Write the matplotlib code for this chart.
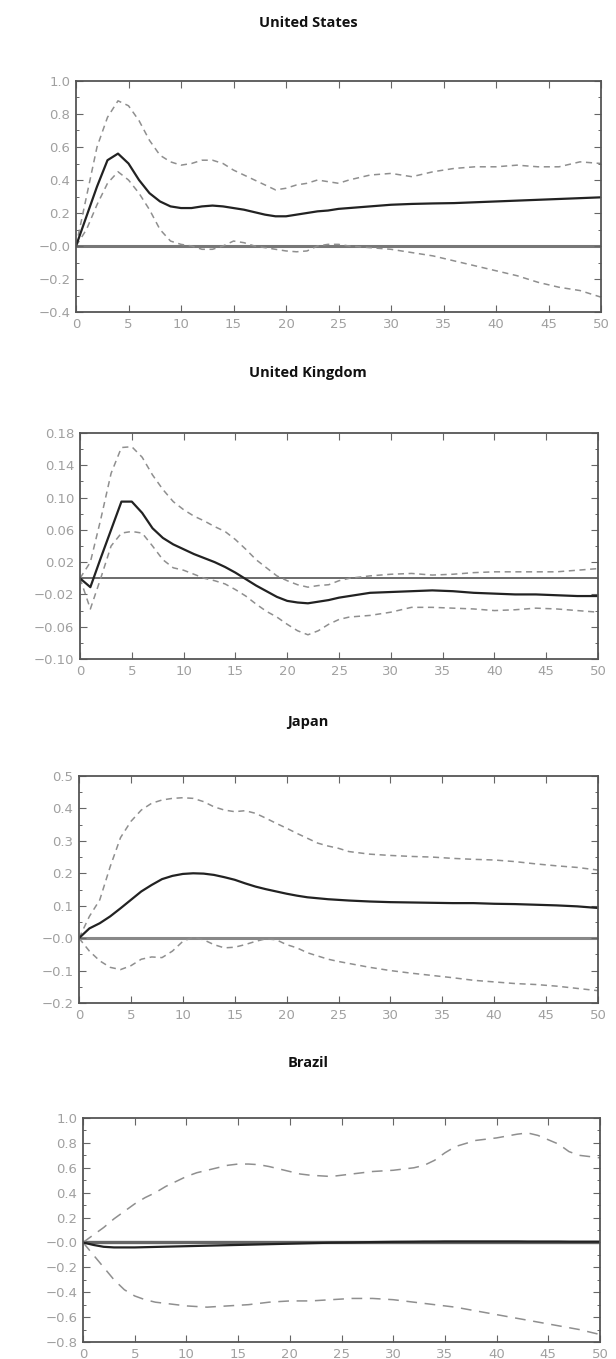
import numpy as np
import matplotlib.pyplot as plt
from matplotlib.ticker import FixedLocator, FixedFormatter, MultipleLocator

# impulse responses
titles = ["United States", "United Kingdom", "Japan", "Brazil"]

us_h = [0, 1, 2, 3, 4, 5, 6, 7, 8, 9, 10, 11, 12, 13, 14, 15, 16, 17, 18, 19,
        20, 21, 22, 23, 24, 25, 26, 28, 30, 32, 34, 36, 38, 40, 42, 44, 46, 48, 50]
us_mid = [0, 0.18, 0.36, 0.52, 0.56, 0.50, 0.40, 0.32, 0.27, 0.24, 0.23, 0.23, 0.24, 0.245,
          0.24, 0.23, 0.22, 0.205, 0.19, 0.18, 0.18, 0.19, 0.20, 0.21, 0.215, 0.225, 0.23,
          0.24, 0.25, 0.255, 0.258, 0.26, 0.265, 0.27, 0.275, 0.28, 0.285, 0.29, 0.295]
us_hi = [0, 0.30, 0.60, 0.78, 0.88, 0.85, 0.76, 0.64, 0.55, 0.51, 0.49, 0.50, 0.52, 0.52,
         0.50, 0.46, 0.43, 0.40, 0.37, 0.34, 0.35, 0.37, 0.38, 0.40, 0.39, 0.38, 0.40,
         0.43, 0.44, 0.42, 0.45, 0.47, 0.48, 0.48, 0.49, 0.48, 0.48, 0.51, 0.50]
us_lo = [0, 0.10, 0.25, 0.38, 0.45, 0.40, 0.32, 0.22, 0.10, 0.03, 0.01, 0.0, -0.02, -0.02,
         0.0, 0.03, 0.02, 0.0, -0.01, -0.02, -0.03, -0.035, -0.03, 0.0, 0.01, 0.01, 0.0,
         -0.01, -0.02, -0.04, -0.06, -0.09, -0.12, -0.15, -0.18, -0.22, -0.25, -0.27, -0.31]

uk_h = [0, 1, 2, 3, 4, 5, 6, 7, 8, 9, 10, 11, 12, 13, 14, 15, 16, 17, 18, 19,
        20, 21, 22, 23, 24, 25, 26, 28, 30, 32, 34, 36, 38, 40, 42, 44, 46, 48, 50]
uk_mid = [0, -0.011, 0.025, 0.060, 0.095, 0.095, 0.081, 0.062, 0.050, 0.042, 0.036, 0.030,
          0.025, 0.020, 0.014, 0.007, -0.001, -0.009, -0.016, -0.023, -0.028, -0.030,
          -0.031, -0.029, -0.027, -0.024, -0.022, -0.018, -0.017, -0.016, -0.015, -0.016,
          -0.018, -0.019, -0.020, -0.020, -0.021, -0.022, -0.022]
uk_hi = [0, 0.02, 0.073, 0.13, 0.162, 0.163, 0.15, 0.128, 0.11, 0.095, 0.085, 0.077, 0.071,
         0.064, 0.058, 0.048, 0.036, 0.023, 0.013, 0.003, -0.003, -0.008, -0.011, -0.009,
         -0.008, -0.003, 0.0, 0.003, 0.005, 0.006, 0.004, 0.005, 0.007, 0.008, 0.008,
         0.008, 0.008, 0.010, 0.012]
uk_lo = [0, -0.038, 0.0, 0.04, 0.056, 0.058, 0.056, 0.040, 0.023, 0.013, 0.010, 0.005, 0.0,
         -0.003, -0.007, -0.014, -0.022, -0.032, -0.041, -0.048, -0.057, -0.065, -0.070,
         -0.065, -0.057, -0.051, -0.048, -0.046, -0.042, -0.036, -0.036, -0.037, -0.038,
         -0.040, -0.039, -0.037, -0.038, -0.040, -0.042]

jp_h = [0, 1, 2, 3, 4, 5, 6, 7, 8, 9, 10, 11, 12, 13, 14, 15, 16, 17, 18, 19,
        20, 21, 22, 23, 24, 25, 26, 28, 30, 32, 34, 36, 38, 40, 42, 44, 46, 48, 50]
jp_mid = [0, 0.03, 0.046, 0.067, 0.092, 0.118, 0.144, 0.164, 0.182, 0.192, 0.198, 0.200,
          0.199, 0.195, 0.188, 0.180, 0.169, 0.159, 0.151, 0.144, 0.137, 0.131, 0.126,
          0.123, 0.120, 0.118, 0.116, 0.113, 0.111, 0.110, 0.109, 0.108, 0.108, 0.106,
          0.105, 0.103, 0.101, 0.098, 0.093]
jp_hi = [0, 0.067, 0.118, 0.22, 0.31, 0.36, 0.395, 0.416, 0.426, 0.431, 0.433, 0.431, 0.421,
         0.405, 0.395, 0.39, 0.393, 0.385, 0.37, 0.354, 0.339, 0.323, 0.308, 0.293, 0.284,
         0.277, 0.267, 0.259, 0.255, 0.252, 0.25, 0.246, 0.243, 0.241, 0.236, 0.229,
         0.223, 0.218, 0.210]
jp_lo = [0, -0.04, -0.07, -0.09, -0.097, -0.085, -0.065, -0.058, -0.06, -0.04, -0.01, 0.003,
         -0.005, -0.02, -0.03, -0.028, -0.02, -0.01, -0.002, -0.005, -0.02, -0.03, -0.045,
         -0.055, -0.065, -0.072, -0.078, -0.09, -0.10, -0.108, -0.115, -0.122, -0.13,
         -0.135, -0.14, -0.143, -0.148, -0.155, -0.162]

br_h = [0, 1, 2, 3, 4, 5, 6, 7, 8, 9, 10, 11, 12, 13, 14, 15, 16, 17, 18, 19,
        20, 21, 22, 24, 26, 28, 30, 32, 33, 34, 35, 36, 38, 40, 42, 43, 44, 46, 47, 48, 50]
br_mid = [0, -0.02, -0.035, -0.04, -0.04, -0.04, -0.038, -0.036, -0.034, -0.032, -0.03,
          -0.028, -0.026, -0.024, -0.022, -0.02, -0.018, -0.016, -0.014, -0.012, -0.01,
          -0.008, -0.006, -0.002, 0.0, 0.003, 0.005, 0.006, 0.007, 0.007, 0.008, 0.008,
          0.008, 0.008, 0.008, 0.007, 0.007, 0.007, 0.006, 0.006, 0.006]
br_hi = [0, 0.06, 0.12, 0.19, 0.25, 0.31, 0.36, 0.40, 0.45, 0.49, 0.53, 0.56, 0.58, 0.60,
         0.62, 0.63, 0.63, 0.625, 0.61, 0.59, 0.57, 0.55, 0.54, 0.53, 0.55, 0.57, 0.58,
         0.60, 0.62, 0.66, 0.72, 0.77, 0.82, 0.84, 0.87, 0.88, 0.86, 0.79, 0.73, 0.70, 0.68]
br_lo = [0, -0.10, -0.20, -0.30, -0.38, -0.43, -0.46, -0.48, -0.49, -0.50, -0.51, -0.515,
         -0.52, -0.515, -0.51, -0.505, -0.50, -0.49, -0.48, -0.475, -0.47, -0.47, -0.47,
         -0.46, -0.45, -0.45, -0.46, -0.48, -0.49, -0.50, -0.51, -0.52, -0.55, -0.58,
         -0.61, -0.625, -0.64, -0.67, -0.685, -0.70, -0.74]

# y axis ticks and their labels
us_yt = [-0.4, -0.2, 0.0, 0.2, 0.4, 0.6, 0.8, 1.0]
us_yl = ["\u22120.4", "\u22120.2", "\u22120.0", "0.2", "0.4", "0.6", "0.8", "1.0"]
uk_yt = [-0.10, -0.06, -0.02, 0.02, 0.06, 0.10, 0.14, 0.18]
uk_yl = ["\u22120.10", "\u22120.06", "\u22120.02", "0.02", "0.06", "0.10", "0.14", "0.18"]
jp_yt = [-0.2, -0.1, 0.0, 0.1, 0.2, 0.3, 0.4, 0.5]
jp_yl = ["\u22120.2", "\u22120.1", "\u22120.0", "0.1", "0.2", "0.3", "0.4", "0.5"]
br_yt = [-0.8, -0.6, -0.4, -0.2, 0.0, 0.2, 0.4, 0.6, 0.8, 1.0]
br_yl = ["\u22120.8", "\u22120.6", "\u22120.4", "\u22120.2", "\u22120.0", "0.2", "0.4",
         "0.6", "0.8", "1.0"]
x_ticks = [0, 5, 10, 15, 20, 25, 30, 35, 40, 45, 50]

W, H = 616, 1359
fig = plt.figure(figsize=(W / 100, H / 100), dpi=100)

# pixel boxes: left, right, top, bottom ; title y
boxes = [(76, 601, 81, 312, 23), (80, 598, 433, 659, 373),
         (79, 598, 776, 1003, 722), (83, 600, 1118, 1342, 1063)]
panels = [
    (us_h, us_mid, us_hi, us_lo, us_yt, us_yl, 0.1, (4, 3), "#777777", 2.2),
    (uk_h, uk_mid, uk_hi, uk_lo, uk_yt, uk_yl, 0.02, (4, 3), "#444444", 1.1),
    (jp_h, jp_mid, jp_hi, jp_lo, jp_yt, jp_yl, 0.05, (4, 3), "#888888", 2.2),
    (br_h, br_mid, br_hi, br_lo, br_yt, br_yl, 0.1, (7, 5), "#666666", 2.4),
]

for (l, r, t, b, ty), title, p in zip(boxes, titles, panels):
    h, mid, hi, lo, yt, yl, ymin, dash, zc, zlw = p
    ax = fig.add_axes([l / W, 1 - b / H, (r - l) / W, (b - t) / H])
    ax.axhline(0, color=zc, lw=zlw, zorder=1)
    ax.plot(h, hi, color="#8f8f8f", lw=1.1, dashes=dash)
    ax.plot(h, lo, color="#8f8f8f", lw=1.1, dashes=dash)
    ax.plot(h, mid, color="#222222", lw=1.6)
    ax.set_xlim(0, 50)
    ax.set_ylim(yt[0], yt[-1])
    ax.xaxis.set_major_locator(FixedLocator(x_ticks))
    ax.set_xticklabels([str(v) for v in x_ticks])
    ax.yaxis.set_major_locator(FixedLocator(yt))
    ax.yaxis.set_major_formatter(FixedFormatter(yl))
    ax.yaxis.set_minor_locator(MultipleLocator(ymin))
    ax.tick_params(which="both", direction="in", top=True, right=True,
                   color="#666666", labelcolor="#a0a0a0", labelsize=9.5, pad=4)
    ax.tick_params(which="major", length=5, width=0.8)
    ax.tick_params(which="minor", length=2.5, width=0.7)
    for s in ax.spines.values():
        s.set_color("#555555")
        s.set_linewidth(1.3)
    fig.text(0.5, 1 - ty / H, title, ha="center", va="center",
             fontsize=10.5, fontweight="bold", family="Open Sans", color="#111111")

fig.savefig("out.png", dpi=100)
